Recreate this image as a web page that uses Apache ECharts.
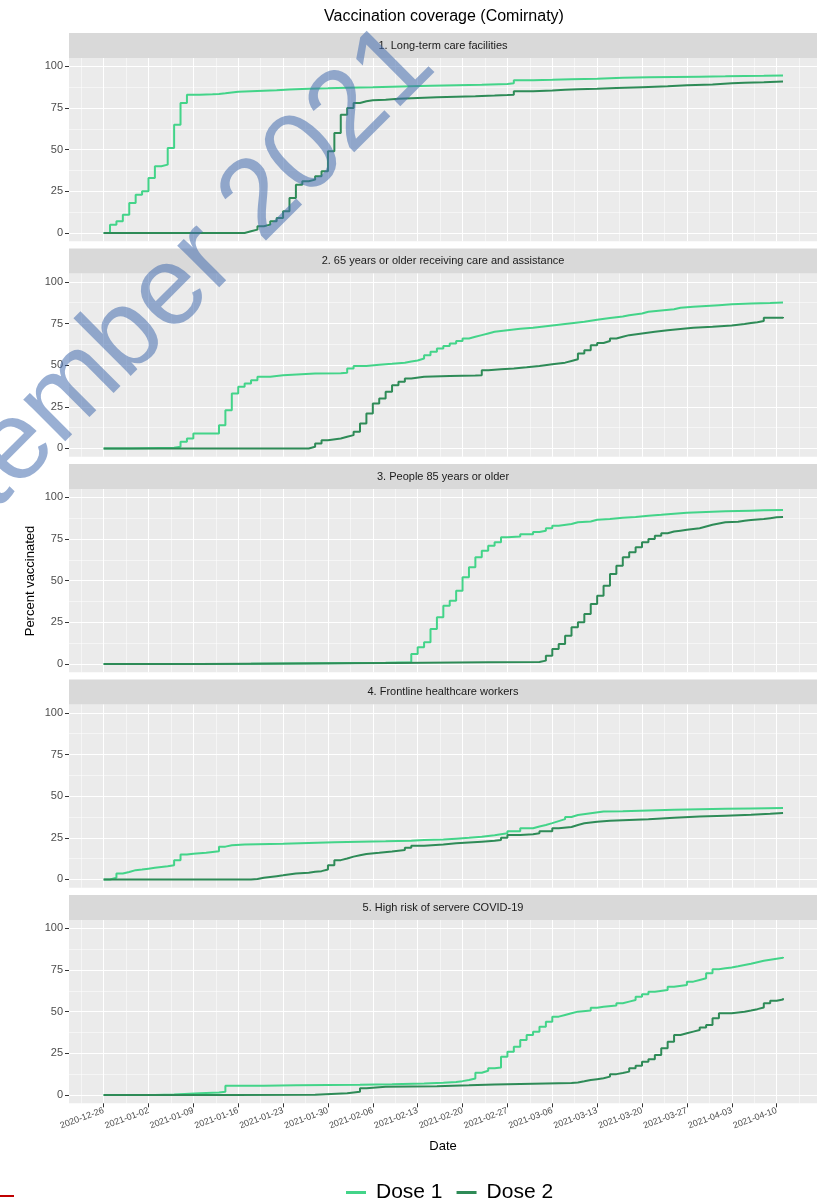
<!DOCTYPE html>
<html>
<head>
<meta charset="utf-8">
<script src="https://cdn.jsdelivr.net/npm/echarts@6/dist/echarts.min.js"></script>
<style>
html, body { margin: 0; padding: 0; background: #fff; }
#chart { width: 817px; height: 1203px; }
</style>
</head>
<body>
<div id="chart"></div>
<script>
// weekly date ticks on the x axis
var tickLabels = ['2020-12-26','2021-01-02','2021-01-09','2021-01-16','2021-01-23','2021-01-30','2021-02-06',
    '2021-02-13','2021-02-20','2021-02-27','2021-03-06','2021-03-13','2021-03-20','2021-03-27','2021-04-03','2021-04-10'];
var yTicks = [0, 25, 50, 75, 100];
var panelTitles = ['1. Long-term care facilities', '2. 65 years or older receiving care and assistance',
    '3. People 85 years or older', '4. Frontline healthcare workers', '5. High risk of servere COVID-19'];

// [days since 2020-12-26, percent vaccinated]
var ltcDose1 = [[0,0],[1,5],[2,7],[3,11],[4,18],[5,23],[6,25],[7,33],[8,40],[9,41],[10,51],[11,65],[12,78],[13,83],
    [15,83.2],[17,83.4],[18,83.8],[19,84.3],[20,84.8],[21,85.1],[23,85.4],[25,85.7],[27,86.1],[29,86.5],[32,86.8],
    [35,87.2],[38,87.5],[42,87.8],[45,88.1],[48,88.4],[51,88.7],[55,89],[59,89.4],[63,89.8],[64,91.6],[67,91.9],
    [70,92.3],[73,92.6],[77,93.1],[81,93.4],[85,93.6],[89,93.8],[93,94],[97,94.2],[100,94.3],[103,94.5],[106,94.6]];
var ltcDose2 = [[0,0],[22,1],[23,2],[24,4],[25,5],[26,7],[27,9],[28,13],[29,21],[30,29],[31,31],[32,32],[33,34],
    [34,37],[35,49],[36,60],[37,71],[38,75],[39,78],[40,79],[41,79.7],[42,80],[44,80.5],[46,81],[49,81.4],[52,81.8],
    [55,82.1],[58,82.5],[61,82.8],[63,83],[64,85],[67,85.5],[70,86],[72,86.3],[74,86.6],[77,87],[80,87.5],[84,88],
    [88,88.6],[91,89.1],[95,89.8],[98,90.2],[100,90.5],[103,90.9],[106,91.2]];
var careDose1 = [[0,0],[4,0.5],[11,1],[12,4],[13,6],[14,9],[18,14],[19,23],[20,33],[21,37],[22,39],[23,41],[24,43],
    [26,44],[28,45],[33,45.2],[37,45.5],[38,48],[39,49.5],[41,50.2],[43,50.8],[45,51.5],[47,52.2],[48,52.8],[49,54],
    [50,56],[51,58],[52,60],[53,61.5],[54,63],[55,64.5],[56,66],[57,67],[58,68],[59,69],[60,70],[61,71],[63,71.8],
    [65,72.5],[67,73.4],[69,74.3],[71,75.2],[73,76],[75,77.2],[77,78.3],[79,79.2],[81,80],[82,81],[84,82],[85,82.8],
    [87,83.5],[89,84.5],[90,85],[92,85.5],[94,86],[96,86.5],[98,87],[101,87.3],[104,87.6],[106,87.8]];
var careDose2 = [[0,0],[32,1],[33,3],[34,5],[35,6],[37,7],[38,8],[39,10],[40,15],[41,21],[42,27],[43,30],[44,34],
    [45,38],[46,40],[47,42],[48,43],[50,43.5],[54,43.8],[58,44],[59,47],[60,47.5],[62,48],[64,48.7],[66,49.5],
    [68,50.5],[70,51.5],[72,52.5],[73,53.5],[74,57],[75,59],[76,62],[77,63.3],[78,64.5],[79,66],[80,67],[81,68],
    [82,69],[84,70],[86,71],[88,71.7],[90,72.4],[92,73],[95,73.8],[98,74.7],[100,75.3],[101,75.8],[102,76.5],
    [103,78.4],[106,78.9]];
var old85Dose1 = [[0,0],[10,0.2],[23,0.5],[35,0.8],[44,1],[48,6],[49,10],[50,13],[51,21],[52,28],[53,35],[54,38],
    [55,44],[56,52],[57,58],[58,64],[59,68],[60,71],[61,73],[62,76],[63,76.5],[65,77.8],[67,79.2],[68,80],[69,81.5],
    [70,83],[71,84],[73,85],[74,85.5],[76,86.5],[77,87],[79,87.8],[81,88.2],[83,89],[85,89.5],[87,90.1],[89,90.7],
    [91,91],[93,91.3],[95,91.6],[97,91.8],[99,92],[101,92.2],[103,92.4],[106,92.6]];
var old85Dose2 = [[0,0],[15,0.3],[30,0.6],[45,1],[60,1.2],[68,2],[69,5],[70,9],[71,12],[72,17],[73,22],[74,25],
    [75,30],[76,36],[77,41],[78,47],[79,54],[80,59],[81,64],[82,67],[83,70],[84,73],[85,75],[86,77],[87,78.5],
    [88,79.5],[89,80],[90,80.5],[91,81],[92,81.5],[93,82.5],[94,83.5],[95,84.3],[96,85],[97,85.3],[99,86],
    [100,86.4],[101,86.7],[102,87],[103,87.5],[104,88],[105,88.2],[106,88.5]];
var hcwDose1 = [[0,0],[1,1],[2,3.6],[3,4.5],[4,5.6],[5,6],[6,6.5],[7,7],[8,7.5],[9,8],[10,8.6],[11,11.6],[12,15],
    [13,15.5],[14,16],[16,16.5],[17,17],[18,19.7],[19,20.5],[20,21],[22,21.2],[24,21.5],[28,21.9],[32,22.3],[36,22.6],
    [40,22.9],[44,23.3],[48,23.7],[50,24],[53,24.5],[55,25],[57,25.7],[59,26.6],[61,27.7],[63,29],[65,30.7],[67,31.8],
    [68,32.7],[69,33.8],[70,35],[71,36.2],[72,37.5],[73,38.7],[74,39.8],[76,40.8],[78,41],[81,41.4],[85,41.8],
    [89,42.2],[93,42.4],[97,42.6],[101,42.9],[106,43.2]];
var hcwDose2 = [[0,0],[23,0.3],[24,1],[25,1.5],[26,2],[27,2.5],[28,3.6],[30,4],[32,4.6],[33,5],[34,6],[35,8.6],
    [36,11.6],[37,12.6],[38,13.7],[39,14.5],[40,15.3],[41,16],[43,16.8],[45,17.7],[47,19],[48,20.3],[50,21],
    [53,21.7],[55,22.2],[57,22.7],[59,23.2],[61,23.7],[62,25],[63,26.7],[65,27.2],[67,27.7],[68,29],[70,30.7],
    [71,31.5],[73,32.7],[74,33.7],[75,34.7],[77,35.2],[79,35.6],[81,36.1],[85,37],[89,37.8],[93,38.3],[97,38.8],
    [101,39.4],[104,39.9],[106,40.2]];
var riskDose1 = [[0,0],[8,0.3],[11,1],[15,1.5],[18,2],[19,5.5],[25,5.8],[30,6],[35,6.2],[40,6.5],[45,6.9],[50,7.3],
    [53,7.8],[55,8.3],[56,9],[57,9.9],[58,13.3],[59,14.5],[60,16],[61,16.5],[62,23],[63,26],[64,29],[65,33],[66,36],
    [67,38],[68,41],[69,44],[70,47],[71,48],[72,49],[73,50],[74,50.7],[76,52.3],[77,53],[78,53.7],[80,55],[81,56],
    [82,57],[83,59],[84,60.5],[85,62],[86,63],[88,65],[89,66],[91,68],[92,69],[93,70],[94,73],[95,75.5],[96,76],
    [97,76.5],[98,77.2],[99,78],[100,78.8],[101,79.7],[102,80.6],[103,81.2],[104,81.8],[105,82.3],[106,82.8]];
var riskDose2 = [[0,0],[20,0.2],[33,1],[38,1.5],[39,2],[40,4],[41,4.9],[44,5.1],[48,5.3],[52,5.8],[57,6.3],[61,6.6],
    [65,6.9],[69,7.2],[73,7.5],[74,8.2],[75,9],[76,9.5],[77,10],[78,11],[79,12.5],[80,13.2],[81,14],[82,16],[83,17.5],
    [84,20],[85,21.5],[86,24],[87,28],[88,32],[89,36],[90,37],[91,38],[92,39],[93,40.5],[94,42],[95,46],[96,49],
    [98,49.5],[99,50],[100,50.7],[101,51.5],[102,52.5],[103,55],[104,56.5],[105,57.3],[106,58]];

var dose1 = [ltcDose1, careDose1, old85Dose1, hcwDose1, riskDose1];
var dose2 = [ltcDose2, careDose2, old85Dose2, hcwDose2, riskDose2];
var colors = ['#43d489', '#2e8b57'];

var day0 = Date.UTC(2020, 11, 26);
function toDay(s) { return (Date.parse(s) - day0) / 86400000; }
function dayLabel(d) { return new Date(day0 + Math.round(d) * 86400000).toISOString().slice(0, 10); }

var majorX = tickLabels.map(toDay);
var minorX = majorX.map(function (d) { return d - 3.5; }).concat([majorX[majorX.length - 1] + 3.5]);
var minorY = [12.5, 37.5, 62.5, 87.5];

var plotLeft = 69, plotWidth = 750, plotH = 183.3, panelStep = 215.5, firstTop = 58, stripH = 25;
var fontFam = "'Liberation Sans', Arial, sans-serif";

var grids = [], xAxes = [], yAxes = [], series = [], graphics = [];
for (var i = 0; i < 5; i++) {
    var panelTop = firstTop + i * panelStep;
    var last = i === 4;
    grids.push({ left: plotLeft, top: panelTop, width: plotWidth, height: plotH, show: true,
        backgroundColor: '#EBEBEB', borderWidth: 0 });
    xAxes.push({
        type: 'value', gridIndex: i, min: -5.4, max: 111.3,
        axisLine: { show: false, onZero: false },
        axisTick: { show: last, customValues: majorX, length: 4, lineStyle: { color: '#333', width: 1 } },
        axisLabel: { show: last, customValues: majorX, rotate: 20, fontSize: 9, color: '#4D4D4D', margin: 7,
            formatter: function (v) { return dayLabel(v); } },
        splitLine: { show: true, lineStyle: { color: '#fff', width: 1.1 } },
        name: last ? 'Date' : '', nameLocation: 'middle', nameGap: 37,
        nameTextStyle: { fontSize: 13, color: '#000', fontFamily: fontFam }
    });
    yAxes.push({
        type: 'value', gridIndex: i, min: -5, max: 105,
        axisLine: { show: false, onZero: false },
        axisTick: { show: true, customValues: yTicks, length: 4, lineStyle: { color: '#333', width: 1 } },
        axisLabel: { customValues: yTicks, fontSize: 11, color: '#4D4D4D', margin: 6 },
        splitLine: { show: true, lineStyle: { color: '#fff', width: 1.1 } }
    });
    series.push({
        name: 'Dose 1', type: 'line', step: 'end', xAxisIndex: i, yAxisIndex: i, symbol: 'none',
        data: dose1[i], lineStyle: { color: colors[0], width: 2 }, itemStyle: { color: colors[0] }, z: 3
    });
    series.push({
        name: 'Dose 2', type: 'line', step: 'end', xAxisIndex: i, yAxisIndex: i, symbol: 'none',
        data: dose2[i], lineStyle: { color: colors[1], width: 2 }, itemStyle: { color: colors[1] }, z: 4
    });
    // facet strip
    graphics.push({ type: 'rect', left: plotLeft, top: panelTop - stripH, silent: true,
        shape: { width: plotWidth, height: stripH }, style: { fill: '#D9D9D9' } });
    graphics.push({ type: 'text', x: 443, y: panelTop - stripH / 2, silent: true,
        style: { text: panelTitles[i], fill: '#1A1A1A', font: '11px ' + fontFam, align: 'center', verticalAlign: 'middle' } });
}
// minor grid lines
for (var j = 0; j < 5; j++) {
    xAxes.push({ type: 'value', gridIndex: j, min: -5.4, max: 111.3,
        axisLine: { show: false, onZero: false }, axisLabel: { show: false },
        axisTick: { show: false, customValues: minorX },
        splitLine: { show: true, lineStyle: { color: '#fff', width: 0.5 } } });
    yAxes.push({ type: 'value', gridIndex: j, min: -5, max: 105,
        axisLine: { show: false, onZero: false }, axisLabel: { show: false },
        axisTick: { show: false, customValues: minorY },
        splitLine: { show: true, lineStyle: { color: '#fff', width: 0.5 } } });
}

graphics.push({ type: 'text', x: 444, y: 17, silent: true,
    style: { text: 'Vaccination coverage (Comirnaty)', fill: '#000', font: '16px ' + fontFam, align: 'center', verticalAlign: 'middle' } });
graphics.push({ type: 'text', x: 30, y: 581, rotation: Math.PI / 2, silent: true,
    style: { text: 'Percent vaccinated', fill: '#000', font: '13px ' + fontFam, align: 'center', verticalAlign: 'middle' } });
graphics.push({ type: 'rect', left: 0, top: 1195, silent: true, shape: { width: 14, height: 2 }, style: { fill: '#C00000' } });
// watermark
graphics.push({ type: 'text', x: 456, y: 86, rotation: Math.PI / 4, silent: true, z: 100,
    style: { text: 'September 2021', fill: 'rgba(70,110,175,0.55)', font: '112px ' + fontFam, align: 'right', verticalAlign: 'bottom' } });

var myChart = echarts.init(document.getElementById('chart'));
var option = {
    animation: false,
    textStyle: { fontFamily: fontFam },
    legend: {
        data: ['Dose 1', 'Dose 2'], left: 341, top: 1177, icon: 'rect', itemWidth: 20, itemHeight: 3, itemGap: 14,
        textStyle: { fontSize: 21, color: '#000', padding: [0, 0, 0, 5] }
    },
    grid: grids,
    xAxis: xAxes,
    yAxis: yAxes,
    series: series,
    graphic: graphics
};
myChart.setOption(option);
</script>
</body>
</html>
